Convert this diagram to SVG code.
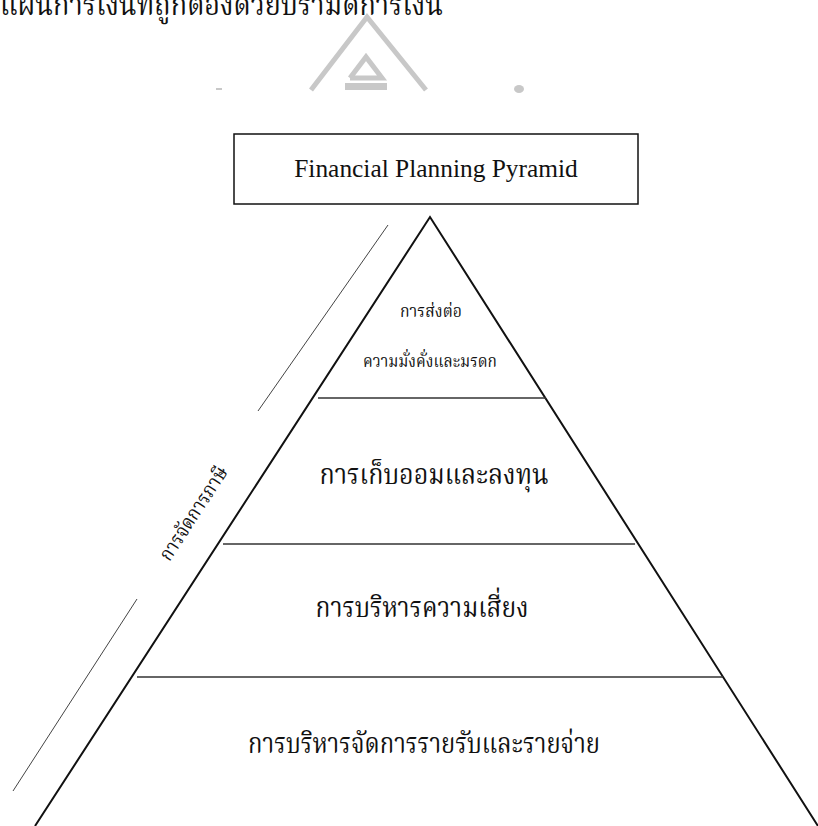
<svg xmlns="http://www.w3.org/2000/svg" width="818" height="826" viewBox="0 0 818 826">
<style>
.th{font-family:"Norasi","Kinnari","TH Sarabun New","Noto Serif Thai","Noto Sans Thai","Liberation Serif","Noto Sans",serif;fill:#111;text-anchor:middle}
.en{font-family:"Liberation Serif",serif;fill:#111;text-anchor:middle}
.side{stroke:#111;stroke-width:2;fill:none}
.tier{stroke:#333;stroke-width:1.5}
.diag{stroke:#444;stroke-width:1}
.wm{stroke:#c8c8c8;stroke-width:5;fill:none}
</style>
<rect width="818" height="826" fill="#fff"/>
<g id="watermark">
<polyline class="wm" points="311,90 367,17 426,90"/>
<polyline class="wm" points="350,78 366,57 382,78 350,78"/>
<rect x="345" y="83" width="42" height="7" fill="#c8c8c8"/>
<rect x="216" y="88" width="6" height="2" fill="#c8c8c8"/>
<ellipse cx="519" cy="89" rx="5" ry="4" fill="#c8c8c8"/>
</g>
<text class="th" x="0" y="15" font-size="30" style="text-anchor:start" textLength="443" lengthAdjust="spacingAndGlyphs">แผนการเงินที่ถูกต้องด้วยปิรามิดการเงิน</text>
<g id="title">
<rect x="234" y="134" width="404" height="70" fill="#fff" stroke="#111" stroke-width="1.5"/>
<text class="en" x="436" y="177" font-size="25.4">Financial Planning Pyramid</text>
</g>
<g id="pyramid">
<polyline class="side" points="35,826 430,217 818,826"/>
</g>
<g id="connectors">
<line class="tier" x1="318" y1="398" x2="546" y2="398"/>
<line class="tier" x1="223" y1="544" x2="635" y2="544"/>
<line class="tier" x1="137" y1="677" x2="723" y2="677"/>
<line class="diag" x1="388" y1="225" x2="258" y2="411"/>
<line class="diag" x1="137" y1="599" x2="13" y2="791"/>
</g>
<g id="tier1">
<text class="th" x="431" y="317" font-size="17" textLength="62" lengthAdjust="spacingAndGlyphs">การส่งต่อ</text>
<text class="th" x="430" y="367" font-size="17" textLength="134" lengthAdjust="spacingAndGlyphs">ความมั่งคั่งและมรดก</text>
</g>
<g id="tier2">
<text class="th" x="434" y="484" font-size="28" textLength="229" lengthAdjust="spacingAndGlyphs">การเก็บออมและลงทุน</text>
</g>
<g id="tier3">
<text class="th" x="422" y="617" font-size="28" textLength="213" lengthAdjust="spacingAndGlyphs">การบริหารความเสี่ยง</text>
</g>
<g id="tier4">
<text class="th" x="424" y="753" font-size="28" textLength="352" lengthAdjust="spacingAndGlyphs">การบริหารจัดการรายรับและรายจ่าย</text>
</g>
<g id="tax">
<text class="th" transform="translate(199,517) rotate(-57)" x="0" y="0" font-size="20" textLength="108" lengthAdjust="spacingAndGlyphs">การจัดการภาษี</text>
</g>
</svg>
